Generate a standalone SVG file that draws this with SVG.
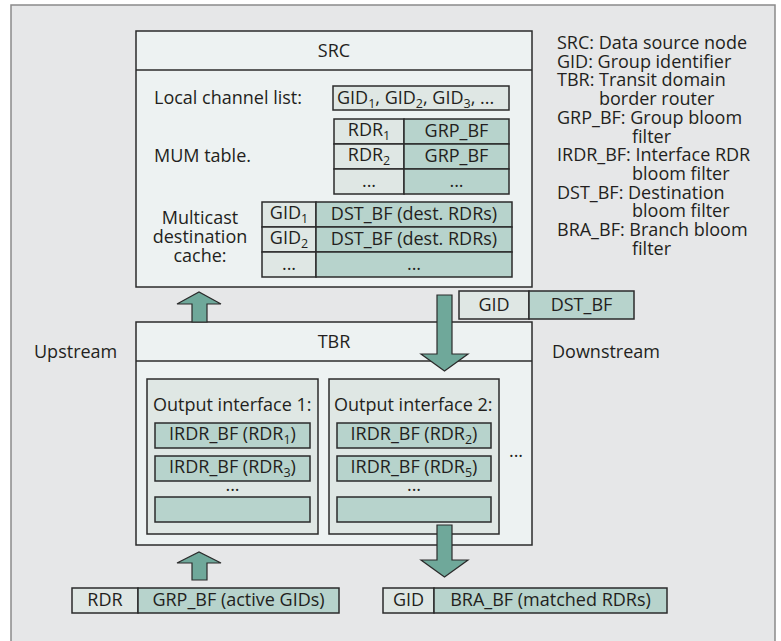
<svg xmlns="http://www.w3.org/2000/svg" width="781" height="641" viewBox="0 0 781 641">
<defs>
<style>
text{font-family:"Open Sans","Liberation Sans",sans-serif;font-size:18px;fill:#231f20}
.c{text-anchor:middle}
.box{fill:#edf2f2;stroke:#2b2b2b;stroke-width:1.5}
.lt{fill:#dfe7e4;stroke:#2b2b2b;stroke-width:1.5}
.gr{fill:#b7d3cc;stroke:#2b2b2b;stroke-width:1.5}
.arr{fill:#6fa89a;stroke:#2b2b2b;stroke-width:1.2;stroke-linejoin:miter}
.sub{font-size:12.5px}
</style>
</defs>
<rect x="11" y="5" width="764" height="660" fill="#e6e7e8" stroke="#8a8a8a" stroke-width="1.5"/>

<g id="SRC">
<rect class="box" x="136" y="31" width="396" height="256"/>
<line x1="136" y1="70" x2="532" y2="70" stroke="#2b2b2b" stroke-width="1.5"/>
<text class="c" x="334" y="57">SRC</text>
<text x="154" y="104">Local channel list:</text>
<rect class="lt" x="333" y="86" width="176" height="24"/>
<text x="337" y="104">GID<tspan class="sub" dy="4">1</tspan><tspan dy="-4">, GID</tspan><tspan class="sub" dy="4">2</tspan><tspan dy="-4">, GID</tspan><tspan class="sub" dy="4">3</tspan><tspan dy="-4">, ...</tspan></text>
<text x="154" y="162">MUM table.</text>
<rect class="lt" x="334" y="119" width="70" height="25"/>
<rect class="gr" x="404" y="119" width="105" height="25"/>
<rect class="lt" x="334" y="144" width="70" height="25"/>
<rect class="gr" x="404" y="144" width="105" height="25"/>
<rect class="lt" x="334" y="169" width="70" height="25"/>
<rect class="gr" x="404" y="169" width="105" height="25"/>
<text class="c" x="369" y="136">RDR<tspan class="sub" dy="4">1</tspan></text>
<text class="c" x="456.5" y="137">GRP_BF</text>
<text class="c" x="369" y="161">RDR<tspan class="sub" dy="4">2</tspan></text>
<text class="c" x="456.5" y="162">GRP_BF</text>
<text class="c" x="369" y="187">...</text>
<text class="c" x="456.5" y="187">...</text>
<text class="c" x="200" y="224">Multicast</text>
<text class="c" x="200" y="243">destination</text>
<text class="c" x="200" y="262">cache:</text>
<rect class="lt" x="262" y="202" width="54" height="25"/>
<rect class="gr" x="316" y="202" width="196" height="25"/>
<rect class="lt" x="262" y="227" width="54" height="25"/>
<rect class="gr" x="316" y="227" width="196" height="25"/>
<rect class="lt" x="262" y="252" width="54" height="25"/>
<rect class="gr" x="316" y="252" width="196" height="25"/>
<text class="c" x="289" y="219">GID<tspan class="sub" dy="4">1</tspan></text>
<text class="c" x="414" y="220">DST_BF (dest. RDRs)</text>
<text class="c" x="289" y="244">GID<tspan class="sub" dy="4">2</tspan></text>
<text class="c" x="414" y="245">DST_BF (dest. RDRs)</text>
<text class="c" x="289" y="270">...</text>
<text class="c" x="414" y="270">...</text>
</g>

<g id="legend">
<text x="557" y="49">SRC: Data source node</text>
<text x="557" y="67.7">GID: Group identifier</text>
<text x="557" y="86.4">TBR: Transit domain</text>
<text x="599" y="105.1">border router</text>
<text x="557" y="123.8">GRP_BF: Group bloom</text>
<text x="632" y="142.5">filter</text>
<text x="557" y="161.2">IRDR_BF: Interface RDR</text>
<text x="632" y="179.9">bloom filter</text>
<text x="557" y="198.6">DST_BF: Destination</text>
<text x="632" y="217.3">bloom filter</text>
<text x="557" y="236">BRA_BF: Branch bloom</text>
<text x="632" y="254.7">filter</text>
</g>

<g id="TBR">
<rect class="box" x="136" y="322" width="396" height="223"/>
<line x1="136" y1="361" x2="532" y2="361" stroke="#2b2b2b" stroke-width="1.5"/>
<text class="c" x="334" y="348">TBR</text>
</g>

<g id="if1">
<rect class="lt" x="147" y="379" width="171" height="155"/>
<text x="153" y="411">Output interface 1:</text>
<rect class="gr" x="155" y="423" width="155" height="25"/>
<text class="c" x="232.5" y="440">IRDR_BF (RDR<tspan class="sub" dy="4">1</tspan><tspan dy="-4">)</tspan></text>
<rect class="gr" x="155" y="456" width="155" height="25"/>
<text class="c" x="232.5" y="473">IRDR_BF (RDR<tspan class="sub" dy="4">3</tspan><tspan dy="-4">)</tspan></text>
<text class="c" x="232.5" y="491">...</text>
<rect class="gr" x="155" y="497" width="155" height="25"/>
</g>

<g id="if2">
<rect class="lt" x="329" y="379" width="170" height="155"/>
<text x="334" y="411">Output interface 2:</text>
<rect class="gr" x="337" y="423" width="154" height="25"/>
<text class="c" x="414" y="440">IRDR_BF (RDR<tspan class="sub" dy="4">2</tspan><tspan dy="-4">)</tspan></text>
<rect class="gr" x="337" y="456" width="154" height="25"/>
<text class="c" x="414" y="473">IRDR_BF (RDR<tspan class="sub" dy="4">5</tspan><tspan dy="-4">)</tspan></text>
<text class="c" x="414" y="491">...</text>
<rect class="gr" x="337" y="497" width="154" height="25"/>
<text class="c" x="516" y="457">...</text>
</g>

<g id="labels">
<text x="34" y="358">Upstream</text>
<text x="552" y="358">Downstream</text>
</g>

<g id="pkt-dst">
<rect class="lt" x="459" y="291" width="70" height="28"/>
<rect class="gr" x="529" y="291" width="105" height="28"/>
<text class="c" x="494" y="311">GID</text>
<text class="c" x="581.5" y="311">DST_BF</text>
</g>

<g id="pkt-grp">
<rect class="lt" x="72" y="588" width="66" height="25"/>
<rect class="gr" x="138" y="588" width="201" height="25"/>
<text class="c" x="105" y="606">RDR</text>
<text class="c" x="238.5" y="606">GRP_BF (active GIDs)</text>
</g>

<g id="pkt-bra">
<rect class="lt" x="383" y="588" width="51" height="25"/>
<rect class="gr" x="434" y="588" width="233" height="25"/>
<text class="c" x="408.5" y="606">GID</text>
<text class="c" x="550.5" y="606">BRA_BF (matched RDRs)</text>
</g>

<g id="connectors">
<polygon class="arr" points="192,322 192,304 177,304 199,292 221,304 207,304 207,322"/>
<polygon class="arr" points="437,295 452,295 452,354 468,354 444.5,371 421,354 437,354"/>
<polygon class="arr" points="192,580 192,563 177,563 199,552 221,563 207,563 207,580"/>
<polygon class="arr" points="437,525 452,525 452,560 468,560 444.5,577 421,560 437,560"/>
</g>
</svg>
